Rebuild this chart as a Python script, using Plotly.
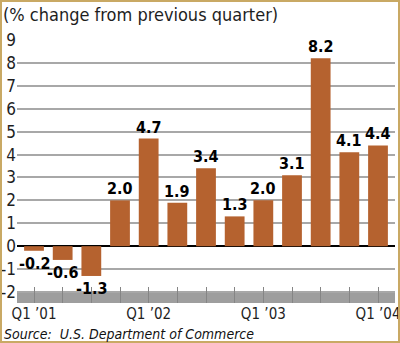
import plotly.graph_objects as go

# Quarterly change in output, Q1 2001 through Q1 2004
quarters = ["Q1 ’01", "Q2 ’01", "Q3 ’01", "Q4 ’01",
            "Q1 ’02", "Q2 ’02", "Q3 ’02", "Q4 ’02",
            "Q1 ’03", "Q2 ’03", "Q3 ’03", "Q4 ’03",
            "Q1 ’04"]
pct_change = [-0.2, -0.6, -1.3, 2.0, 4.7, 1.9, 3.4, 1.3, 2.0, 3.1, 8.2, 4.1, 4.4]
x_labels = ["Q1 ’01", "", "", "", "Q1 ’02", "", "", "", "Q1 ’03", "", "", "", "Q1 ’04"]
y_ticks = list(range(-2, 10))
y_tick_text = [str(v) for v in y_ticks]  # plain hyphen for negatives

W_FIG, H_FIG = 400, 343
L, R, T, B = 17, 5, 40, 40
PW = W_FIG - L - R
PH = H_FIG - T - B

FONT = "Liberation Sans Narrow, DejaVu Sans Condensed, Roboto, Arial"
BAR = "#B5622F"
INK = "#1e1e1e"

x = list(range(len(quarters)))

fig = go.Figure()
fig.add_trace(go.Bar(
    x=x,
    y=pct_change,
    width=0.69,
    marker=dict(color=BAR, line=dict(width=0)),
    hoverinfo="skip",
))


def px_x(px):
    return (px - L) / PW


def px_y(py):
    return (T + PH - py) / PH


# value labels: above positive bars, below negative ones
value_labels = []
for xi, v in zip(x, pct_change):
    pos = v >= 0
    value_labels.append(dict(
        x=xi, y=v, xref="x", yref="y", text=f"{v:.1f}", showarrow=False,
        xanchor="center", yanchor="bottom" if pos else "top",
        yshift=0 if pos else -1,
        font=dict(family=FONT, size=16, color="#000000", weight="bold"),
    ))

shapes = [
    # grey base strip under the bars
    dict(type="rect", xref="paper", yref="y", x0=0, x1=1, y0=-2.48, y1=-1.98,
         fillcolor="#9e9e9e", line=dict(width=0), layer="below"),
    # outer frame
    dict(type="rect", xref="paper", yref="paper",
         x0=px_x(1), x1=px_x(399), y0=px_y(342), y1=px_y(1),
         line=dict(color="#C9A964", width=2), fillcolor="rgba(0,0,0,0)"),
]

fig.update_layout(
    width=W_FIG, height=H_FIG,
    margin=dict(l=L, r=R, t=T, b=B, pad=0),
    paper_bgcolor="white",
    plot_bgcolor="white",
    showlegend=False,
    shapes=shapes,
    font=dict(family=FONT, color=INK),
    xaxis=dict(
        range=[-0.593, 12.593],
        tickvals=x,
        ticktext=x_labels,
        ticks="inside",
        ticklen=16,
        tickwidth=1,
        tickcolor="#858585",
        showgrid=False,
        zeroline=False,
        showline=False,
        automargin=False,
        ticklabeloverflow="allow",
        tickfont=dict(family=FONT, size=15, color=INK),
    ),
    yaxis=dict(
        range=[-2.48, 9.0],
        tickvals=y_ticks,
        ticktext=y_tick_text,
        showgrid=True,
        gridcolor="#a8a8a8",
        gridwidth=1.5,
        zeroline=True,
        zerolinecolor="#000000",
        zerolinewidth=2,
        showline=False,
        ticks="",
        ticklabelstandoff=0,
        ticklabeloverflow="allow",
        automargin=False,
        tickfont=dict(family=FONT, size=17, color=INK),
    ),
    annotations=value_labels + [
        dict(text="(% change from previous quarter)", xref="paper", yref="paper",
             x=px_x(1), y=px_y(2), xanchor="left", yanchor="top", showarrow=False,
             font=dict(family=FONT, size=18, color=INK)),
        dict(text="<i>Source:  U.S. Department of Commerce</i>", xref="paper", yref="paper",
             x=px_x(2), y=px_y(334), xanchor="left", yanchor="middle", showarrow=False,
             font=dict(family=FONT, size=14, color="#111111")),
    ],
)

fig.write_html("out.html")
